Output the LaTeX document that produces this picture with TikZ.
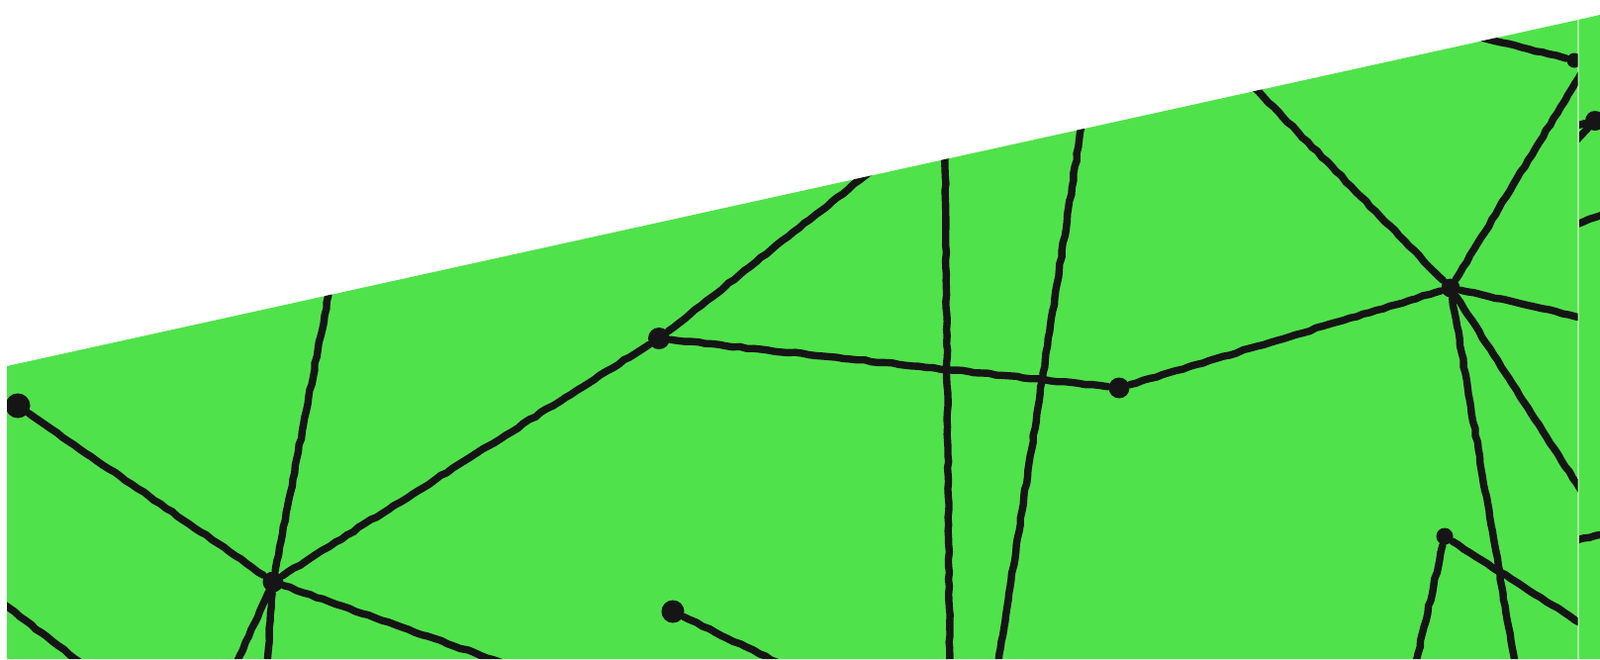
\documentclass[tikz,border=0pt]{standalone}
\usetikzlibrary{decorations.pathmorphing}
\definecolor{cgrass}{HTML}{50E24B}
\definecolor{cseam}{HTML}{A8EE9E}
\definecolor{cink}{HTML}{151515}
\tikzset{
  crack/.style={draw=cink, line width=2.1pt, line cap=round,
    decorate, decoration={random steps, segment length=2pt, amplitude=0.2pt}},
  knot/.style={circle, fill=cink, inner sep=0pt, minimum size=#1},
  knot/.default=0.21cm,
}
\begin{document}
\begin{tikzpicture}[x=0.01cm, y=-0.01cm]
  \useasboundingbox (0,0) rectangle (1617,666);
  % ground panels
  \fill[cgrass] (7,666) -- (7,370) -- (1595,20) -- (1595,666) -- cycle;
  \fill[cgrass] (1595,666) -- (1595,20) -- (1617,15) -- (1617,666) -- cycle;
  \draw[cseam, line width=0.5pt] (1595,20) -- (1595,666);
  % main panel
  \begin{scope}
    \clip (7,666) -- (7,370) -- (1594.5,20) -- (1594.5,666) -- cycle;
    \node[knot=0.25cm] (L) at (18,410) {};
    \node[knot] (A) at (276,588) {};
    \node[knot=0.22cm] (B) at (666,342) {};
    \node[knot] (C) at (1131,392) {};
    \node[knot=0.19cm] (D) at (1466,291) {};
    \node[knot=0.17cm] (E) at (1460,542) {};
    \node[knot=0.23cm] (F) at (680,618) {};
    \node[knot=0.15cm] (G) at (1591,61) {};
    % free ends
    \coordinate (t1) at (332,298);
    \coordinate (t2) at (879,174);
    \coordinate (t3) at (955,157);
    \coordinate (t4) at (1093,127);
    \coordinate (t5) at (1267,88);
    \coordinate (t6) at (1497,38);
    \coordinate (l1) at (3,610);
    \coordinate (b1) at (82,670);
    \coordinate (b2) at (239,670);
    \coordinate (b3) at (270,670);
    \coordinate (b4) at (508,670);
    \coordinate (b5) at (787,670);
    \coordinate (b6) at (960,670);
    \coordinate (b7) at (1009,670);
    \coordinate (b8) at (1431,670);
    \coordinate (b9) at (1531,670);
    \coordinate (r1) at (1598,74);
    \coordinate (r2) at (1598,321);
    \coordinate (r3) at (1598,496);
    \coordinate (r4) at (1598,630);
    % cracks
    \draw[crack] (L) -- (A);
    \draw[crack] (t1) -- (A);
    \draw[crack] (A) -- (b2);
    \draw[crack] (A) -- (b3);
    \draw[crack] (A) -- (b4);
    \draw[crack] (A) -- (B);
    \draw[crack] (l1) -- (b1);
    \draw[crack] (B) -- (t2);
    \draw[crack] (B) -- (C);
    \draw[crack] (C) -- (D);
    \draw[crack] (t3) -- (b6);
    \draw[crack] (t4) -- (b7);
    \draw[crack] (t5) -- (D);
    \draw[crack] (D) -- (r1);
    \draw[crack] (D) -- (r2);
    \draw[crack] (D) -- (r3);
    \draw[crack] (D) -- (b9);
    \draw[crack] (t6) -- (G);
    \draw[crack] (E) -- (b8);
    \draw[crack] (E) -- (r4);
    \draw[crack] (F) -- (b5);
  \end{scope}
  % right strip
  \begin{scope}
    \clip (1596,666) -- (1596,20) -- (1617,15) -- (1617,666) -- cycle;
    \node[knot=0.2cm] (H) at (1612,122) {};
    \coordinate (s1) at (1593,127);
    \coordinate (s2) at (1593,142);
    \coordinate (s3) at (1593,227);
    \coordinate (s4) at (1620,217);
    \coordinate (s5) at (1593,546);
    \coordinate (s6) at (1620,540);
    \draw[crack] (s1) -- (H);
    \draw[crack] (s2) -- (H);
    \draw[crack] (s3) -- (s4);
    \draw[crack] (s5) -- (s6);
  \end{scope}
\end{tikzpicture}
\end{document}
